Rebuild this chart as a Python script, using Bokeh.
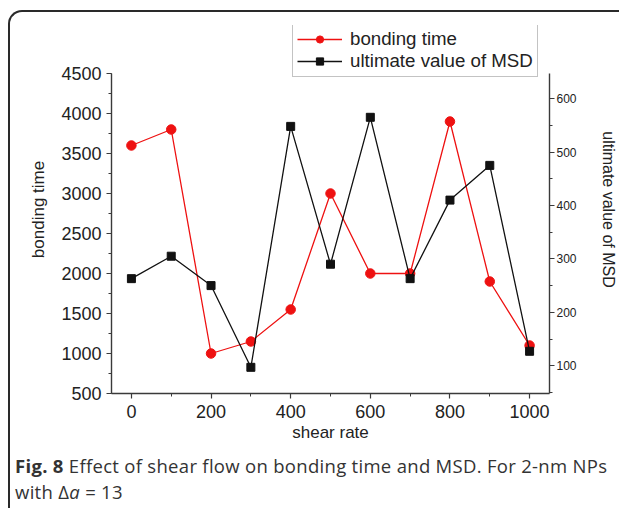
from bokeh.plotting import figure
from bokeh.layouts import column
from bokeh.models import (Range1d, LinearAxis, SingleIntervalTicker, Legend, LegendItem, Div)
from bokeh.embed import file_html
from bokeh.resources import INLINE

# ---- data ----
shear_rate = [0, 100, 200, 300, 400, 500, 600, 700, 800, 900, 1000]
bonding_time = [3600, 3800, 1000, 1150, 1550, 3000, 2000, 2000, 3900, 1900, 1100]
msd_ultimate = [263, 305, 250, 97, 548, 290, 565, 263, 410, 475, 127]

series_names = ["bonding time", "ultimate value of MSD"]
x_title = "shear rate"
y_title = "bonding time"
y2_title = "ultimate value of MSD"
caption_html = ("<b>Fig. 8</b> Effect of shear flow on bonding time and MSD. For 2-nm NPs<br>"
                "with \u0394<i>a</i> = 13")

FONT = "Liberation Sans"
CAP_FONT = "Open Sans"
AXIS_COLOR = "#3a3a3a"
RED = "#ee1111"
BLACK = "#111111"

# axes span only these value bounds; the plot area extends above them to hold the legend
Y_BOUNDS = (500, 4500)
Y2_BOUNDS = (48, 647)
Y_TOP = 5100
Y2_TOP = 736.85

p = figure(width=609, height=435, output_backend="svg", toolbar_location=None,
           x_range=Range1d(-50, 1050), y_range=Range1d(Y_BOUNDS[0], Y_TOP),
           min_border_left=101, min_border_right=68, min_border_top=13, min_border_bottom=54,
           background_fill_color="white")
p.border_fill_color = None
p.outline_line_color = None
p.grid.visible = False
p.extra_y_ranges = {"msd": Range1d(Y2_BOUNDS[0], Y2_TOP)}

def style_axis(ax, size="18px"):
    ax.axis_line_color = AXIS_COLOR
    ax.axis_line_width = 1.4
    ax.major_tick_line_color = AXIS_COLOR
    ax.minor_tick_line_color = AXIS_COLOR
    ax.major_tick_line_width = 1.2
    ax.minor_tick_line_width = 1.0
    ax.major_tick_in = 0
    ax.major_tick_out = 5
    ax.minor_tick_in = 0
    ax.minor_tick_out = 3
    ax.major_label_text_font = FONT
    ax.major_label_text_font_size = size
    ax.major_label_text_color = "#222222"
    ax.axis_label_text_font = FONT
    ax.axis_label_text_font_size = "17px"
    ax.axis_label_text_font_style = "normal"
    ax.axis_label_text_color = "#222222"

# bottom axis
xa = p.xaxis[0]
xa.ticker = SingleIntervalTicker(interval=200, num_minor_ticks=2)
xa.axis_label = x_title
style_axis(xa)
xa.major_label_standoff = 6
xa.axis_label_standoff = 2

# left axis
ya = p.yaxis[0]
ya.ticker = SingleIntervalTicker(interval=500, num_minor_ticks=2)
ya.bounds = Y_BOUNDS
ya.axis_label = y_title
style_axis(ya)
ya.major_label_standoff = 5
ya.axis_label_standoff = 10

# right axis
ra = LinearAxis(y_range_name="msd", axis_label=y2_title, bounds=Y2_BOUNDS,
                ticker=SingleIntervalTicker(interval=100, num_minor_ticks=2))
style_axis(ra, size="12px")
ra.major_label_standoff = 2
ra.axis_label_standoff = 20
ra.axis_label_text_font_size = "16px"
p.add_layout(ra, "right")

# series
l1 = p.line(shear_rate, bonding_time, line_color=RED, line_width=1.3)
s1 = p.scatter(shear_rate, bonding_time, marker="circle", size=9.5, fill_color=RED, line_color=RED)
l2 = p.line(shear_rate, msd_ultimate, line_color=BLACK, line_width=1.3, y_range_name="msd")
s2 = p.scatter(shear_rate, msd_ultimate, marker="square", size=8, fill_color=BLACK,
               line_color=BLACK, y_range_name="msd")

legend = Legend(items=[LegendItem(label=series_names[0], renderers=[l1, s1]),
                       LegendItem(label=series_names[1], renderers=[l2, s2])],
                location=(181, 316))
legend.label_text_font = FONT
legend.label_text_font_size = "18.7px"
legend.label_text_color = "#222222"
legend.border_line_color = "#888888"
legend.border_line_width = 1
legend.background_fill_color = "white"
legend.background_fill_alpha = 1
legend.glyph_width = 45
legend.glyph_height = 18
legend.label_height = 18
legend.label_standoff = 8
legend.spacing = 0
legend.padding = 4
legend.margin = 0
p.add_layout(legend, "center")

caption = Div(text=caption_html, width=607, height=61,
              styles={"font-family": CAP_FONT, "font-size": "18.5px", "color": "#333333",
                      "letter-spacing": "0.3px",
                      "line-height": "25.5px", "padding-top": "1px", "padding-left": "0px",
                      "box-sizing": "border-box", "white-space": "nowrap"})

page = column(p, caption, margin=(10, 0, 0, 8), spacing=0,
              styles={"border-top": "2px solid #2a2a2a", "border-left": "2px solid #2a2a2a",
                      "border-top-left-radius": "14px"})

open("out.html", "w").write(file_html(page, INLINE))
